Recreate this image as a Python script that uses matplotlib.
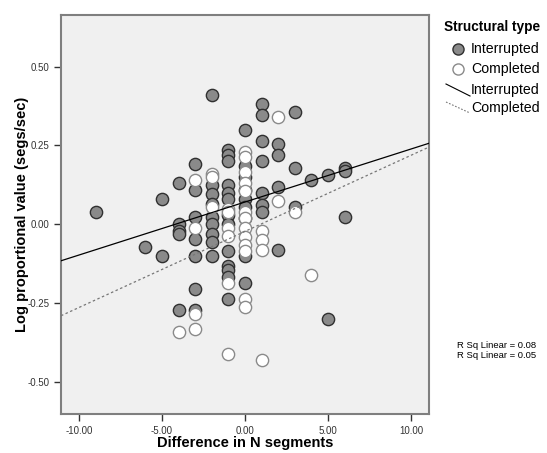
import numpy as np
import matplotlib.pyplot as plt
from matplotlib.lines import Line2D

plt.rcParams['font.family'] = ['Liberation Sans', 'DejaVu Sans']

# Interrupted (grey) points: x = difference in N segments, y = log proportional value
int_x = [-9, -6, -5, -5,
         -4, -4, -4, -4, -4,
         -3, -3, -3, -3, -3, -3, -3,
         -2, -2, -2, -2, -2, -2, -2, -2, -2,
         -1, -1, -1, -1, -1, -1, -1, -1, -1, -1, -1, -1, -1,
         0, 0, 0, 0, 0, 0, 0, 0, 0,
         1, 1, 1, 1, 1, 1, 1,
         2, 2, 2, 2,
         3, 3, 3,
         4, 5, 5, 6, 6, 6]
int_y = [0.04, -0.07, 0.08, -0.10,
         0.13, 0.00, -0.02, -0.03, -0.27,
         0.19, 0.11, 0.025, -0.045, -0.10, -0.205, -0.27,
         0.41, 0.125, 0.095, 0.065, 0.025, 0.00, -0.03, -0.055, -0.10,
         0.235, 0.22, 0.20, 0.125, 0.10, 0.08, 0.03, 0.00, -0.085, -0.13, -0.145, -0.165, -0.235,
         0.30, 0.185, 0.15, 0.11, 0.08, 0.055, 0.02, -0.10, -0.185,
         0.38, 0.345, 0.265, 0.20, 0.10, 0.06, 0.04,
         0.255, 0.22, 0.12, -0.08,
         0.355, 0.18, 0.055,
         0.14, 0.155, -0.30, 0.18, 0.17, 0.025]

# Completed (white) points
com_x = [-4,
         -3, -3, -3, -3,
         -2, -2, -2,
         -1, -1, -1, -1, -1, -1,
         0, 0, 0, 0, 0, 0, 0, 0, 0, 0, 0, 0, 0,
         1, 1, 1, 1,
         2, 2, 3, 4]
com_y = [-0.34,
         0.14, -0.01, -0.285, -0.33,
         0.16, 0.15, 0.055,
         0.05, 0.04, -0.01, -0.035, -0.185, -0.41,
         0.23, 0.215, 0.165, 0.13, 0.105, 0.04, 0.02, -0.01, -0.04, -0.065, -0.085, -0.235, -0.26,
         -0.02, -0.05, -0.08, -0.43,
         0.34, 0.075, 0.04, -0.16]

# fitted lines, read at the axis edges
fit_x = [-11.08, 11.08]
fit_int = [-0.115, 0.257]
fit_com = [-0.289, 0.245]

xticks = [-10, -5, 0, 5, 10]
yticks = [-0.50, -0.25, 0.00, 0.25, 0.50]
r2_labels = ["R Sq Linear = 0.08", "R Sq Linear = 0.05"]

W, H = 547, 453
fig = plt.figure(figsize=(W / 100, H / 100), dpi=100)
ax = fig.add_axes([61 / W, 1 - 414.3 / H, 368 / W, 399.6 / H])
ax.set_facecolor('#f0f0f0')

ax.scatter(int_x, int_y, s=78, c='#8a8a8a', edgecolors='#303030', linewidths=1.0, zorder=2)
ax.scatter(com_x, com_y, s=78, c='white', edgecolors='#8a8a8a', linewidths=1.0, zorder=3)

ax.plot(fit_x, fit_int, color='black', lw=0.9, zorder=4)
ax.plot(fit_x, fit_com, color='#777777', lw=0.9, ls=(0, (2, 2)), zorder=4)

ax.set_xlim(-11.08, 11.08)
ax.set_ylim(-0.601, 0.664)
ax.set_xticks(xticks)
ax.set_xticklabels(['%.2f' % v for v in xticks])
ax.set_yticks(yticks)
ax.set_yticklabels(['%.2f' % v for v in yticks])
ax.tick_params(labelsize=7, length=5, width=1, color='#333333', labelcolor='#333333')
for sp in ax.spines.values():
    sp.set_color('#7f7f7f')
    sp.set_linewidth(1.5)

ax.set_xlabel('Difference in N segments', fontsize=10.5, fontweight='bold')
ax.set_ylabel('Log proportional value (segs/sec)', fontsize=10.5, fontweight='bold')
ax.xaxis.set_label_coords(0.5, -0.054)
ax.yaxis.set_label_coords(-0.087, 0.5)

# legend drawn by hand to the right of the plot
def fx(px):
    return px / W

def fy(py):
    return 1 - py / H

fig.text(fx(492), fy(27), 'Structural type', fontsize=9.8, fontweight='bold', ha='center', va='center')
fig.add_artist(Line2D([fx(458)], [fy(49)], marker='o', ms=8, mfc='#8a8a8a', mec='#303030', mew=1.0))
fig.add_artist(Line2D([fx(458)], [fy(69)], marker='o', ms=8, mfc='white', mec='#8a8a8a', mew=1.0))
fig.add_artist(Line2D([fx(446), fx(470)], [fy(84), fy(96)], color='black', lw=0.8))
fig.add_artist(Line2D([fx(446), fx(470)], [fy(102), fy(113)], color='#777777', lw=0.8, ls=(0, (1.5, 1.5))))
fig.text(fx(471), fy(49), 'Interrupted', fontsize=10.2, ha='left', va='center')
fig.text(fx(471), fy(69), 'Completed', fontsize=10.2, ha='left', va='center')
fig.text(fx(471), fy(90), 'Interrupted', fontsize=10.2, ha='left', va='center')
fig.text(fx(471), fy(108), 'Completed', fontsize=10.2, ha='left', va='center')

fig.text(fx(497), fy(346), r2_labels[0], fontsize=6.8, ha='center', va='center')
fig.text(fx(497), fy(356), r2_labels[1], fontsize=6.8, ha='center', va='center')

fig.savefig('out.png', dpi=100)
